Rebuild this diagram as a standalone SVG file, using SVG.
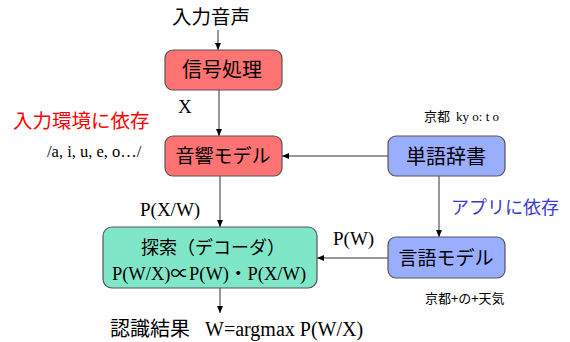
<svg xmlns="http://www.w3.org/2000/svg" width="570" height="342" viewBox="0 0 570 342">
<defs>
<marker id="ah" markerWidth="8" markerHeight="8" refX="7" refY="4" orient="auto" markerUnits="userSpaceOnUse">
<path d="M0,1 L7,4 L0,7 Z" fill="#000"/>
</marker>
<style>
.box{stroke:#555;stroke-width:1.2}
.red{fill:#ff7373}
.blue{fill:#9aaeff}
.green{fill:#80e6c8}
.jp{font-family:"Noto Sans CJK JP","Noto Sans",sans-serif;fill:#000}
.se{font-family:"Liberation Serif","Noto Sans CJK JP",serif;fill:#000}
.con{stroke:#333;stroke-width:1;fill:none;marker-end:url(#ah)}
</style>
</defs>
<rect width="570" height="342" fill="#fff"/>
<g id="connectors">
<line class="con" x1="218" y1="30" x2="218" y2="50"/>
<line class="con" x1="219" y1="90" x2="219" y2="136"/>
<line class="con" x1="388" y1="156" x2="282" y2="156"/>
<line class="con" x1="439" y1="176" x2="439" y2="237"/>
<line class="con" x1="220" y1="176" x2="220" y2="227"/>
<line class="con" x1="388" y1="258" x2="317" y2="258"/>
<line class="con" x1="220" y1="288" x2="220" y2="313"/>
</g>
<g id="input">
<text class="jp" x="211" y="24" font-size="19.5" text-anchor="middle">入力音声</text>
</g>
<g id="signal">
<rect class="box red" x="165" y="50" width="117" height="40" rx="8"/>
<text class="jp" x="222" y="77" font-size="20" text-anchor="middle">信号処理</text>
</g>
<text class="se" x="178" y="113" font-size="19">X</text>
<text x="13" y="128" font-size="19.5" fill="#ff0000" font-family="Noto Sans CJK JP,sans-serif">入力環境に依存</text>
<text class="se" x="47" y="157" font-size="16.5">/a, i, u, e, o…/</text>
<g id="acoustic">
<rect class="box red" x="165" y="136" width="117" height="40" rx="8"/>
<text class="jp" x="223" y="163" font-size="19" text-anchor="middle">音響モデル</text>
</g>
<text class="jp" x="424" y="121" font-size="13">京都<tspan font-family="Liberation Serif" dx="6">ky o: t o</tspan></text>
<g id="dict">
<rect class="box blue" x="388" y="136" width="117" height="40" rx="8"/>
<text class="jp" x="446" y="164" font-size="20" text-anchor="middle">単語辞書</text>
</g>
<text x="451" y="214" font-size="18" fill="#3b3bd0" font-family="Noto Sans CJK JP,sans-serif">アプリに依存</text>
<g id="lm">
<rect class="box blue" x="388" y="237" width="117" height="41" rx="8"/>
<text class="jp" x="446" y="265" font-size="19" text-anchor="middle">言語モデル</text>
</g>
<text class="jp" x="425" y="303" font-size="13">京都+の+天気</text>
<text class="se" x="140" y="216" font-size="19">P(X/W)</text>
<text class="se" x="333" y="245" font-size="19">P(W)</text>
<g id="search">
<rect class="box green" x="103" y="227" width="214" height="61" rx="9"/>
<text class="jp" x="213" y="254" font-size="18" text-anchor="middle">探索（デコーダ）</text>
<text class="se" x="209" y="280" font-size="18.5" text-anchor="middle">P(W/X)∝P(W)・P(X/W)</text>
</g>
<g id="result">
<text class="jp" x="110" y="336" font-size="20">認識結果</text>
<text class="se" x="205" y="336" font-size="20">W=argmax P(W/X)</text>
</g>
</svg>
